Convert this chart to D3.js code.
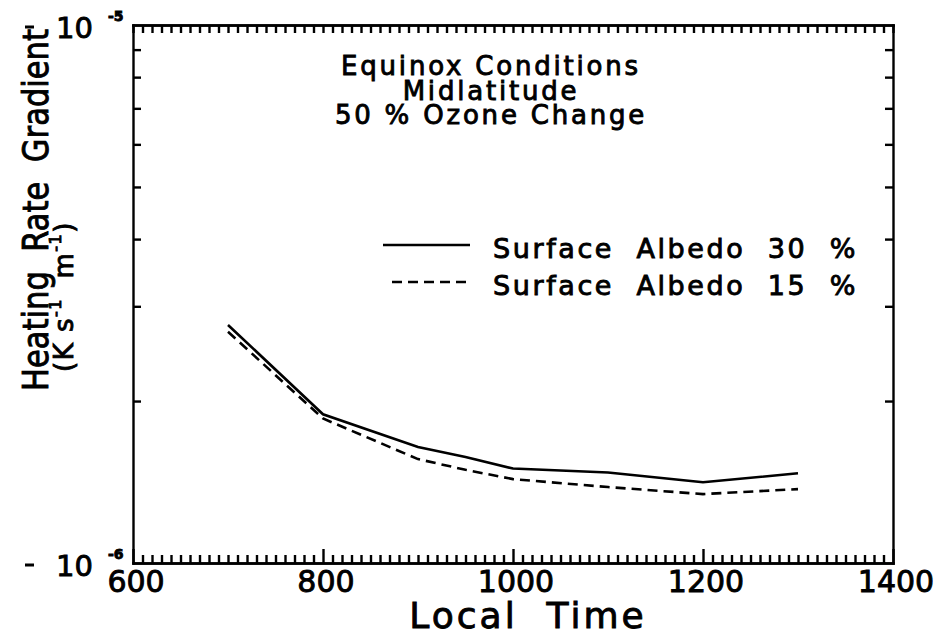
<!DOCTYPE html>
<html>
<head>
<meta charset="utf-8">
<script src="https://cdn.jsdelivr.net/npm/d3@7"></script>
<style>
  body { margin: 0; background: #fff; }
  svg { font-family: "DejaVu Sans", sans-serif; }
  .axis path, .axis line { stroke: #000; stroke-width: 2.4; }
  .axis text { display: none; }
  .txt { fill: #000; stroke: #000; stroke-width: 0.9; white-space: pre; }
</style>
</head>
<body>
<div id="chart"></div>
<script>
// values (heating rate gradient, K s-1 m-1)
var times = [700, 800, 900, 950, 1000, 1100, 1200, 1300];
var albedo30 = [2.77e-6, 1.89e-6, 1.643e-6, 1.574e-6, 1.498e-6, 1.473e-6, 1.413e-6, 1.468e-6];
var albedo15 = [2.69e-6, 1.856e-6, 1.56e-6, 1.49e-6, 1.432e-6, 1.384e-6, 1.343e-6, 1.372e-6];

var xTickLabels = [600, 800, 1000, 1200, 1400];
var yDecades = [1e-6, 1e-5];
var yDecadeExp = ["-6", "-5"];
var titleLines = ["Equinox Conditions", "Midlatitude", "50 % Ozone Change"];
var legendLabels = ["Surface  Albedo  30  %", "Surface  Albedo  15  %"];

var W = 937, H = 637;
var margin = {top: 25, right: 44, bottom: 74, left: 133}
    , width = W - margin.left - margin.right
    , height = H - margin.top - margin.bottom;

var svg = d3.select("#chart").append("svg")
    .attr("width", W)
    .attr("height", H);

var g = svg.append("g")
    .attr("transform", "translate(" + margin.left + "," + margin.top + ")");

var x = d3.scaleLinear().domain([600, 1400]).range([0, width]);
var y = d3.scaleLog().domain(yDecades).range([height, 0]);

// minor ticks every 10 units, majors every 200
var xMinor = d3.range(610, 1400, 10).filter(v => v % 200 !== 0);
var xMajor = xTickLabels;
var yMinor = d3.range(2, 10).map(v => v * 1e-6);

function axisGroup(axis, tr) {
    var a = g.append("g").attr("class", "axis");
    if (tr) a.attr("transform", tr);
    a.call(axis);
    return a;
}

axisGroup(d3.axisBottom(x).tickValues(xMinor).tickSizeInner(-8).tickSizeOuter(0), "translate(0," + height + ")");
axisGroup(d3.axisBottom(x).tickValues(xMajor).tickSizeInner(-14).tickSizeOuter(0), "translate(0," + height + ")");
axisGroup(d3.axisTop(x).tickValues(xMinor).tickSizeInner(-8).tickSizeOuter(0));
axisGroup(d3.axisTop(x).tickValues(xMajor).tickSizeInner(-8).tickSizeOuter(0));
axisGroup(d3.axisLeft(y).tickValues(yMinor).tickSizeInner(-8).tickSizeOuter(0));
axisGroup(d3.axisRight(y).tickValues(yMinor).tickSizeInner(-8).tickSizeOuter(0), "translate(" + width + ",0)");

g.selectAll(".axis path").attr("stroke-linecap", "square");

// x tick labels
g.append("g").selectAll("text")
    .data(xTickLabels)
    .enter().append("text")
    .attr("class", "txt")
    .attr("x", d => x(d) + 3)
    .attr("y", height + 29)
    .attr("text-anchor", "middle")
    .attr("font-size", 30)
    .text(d => d);

// y decade labels: "- 10^n"
var yl = g.append("g");
yDecades.forEach(function(v, i) {
    var yy = y(v);
    yl.append("line")
        .attr("x1", -108).attr("x2", -99)
        .attr("y1", yy + 2).attr("y2", yy + 2)
        .attr("stroke", "#000").attr("stroke-width", 3);
    var t = yl.append("text")
        .attr("class", "txt")
        .attr("x", -77)
        .attr("y", yy + 13)
        .attr("font-size", 29);
    t.append("tspan").text("10");
    t.append("tspan")
        .attr("x", -25)
        .attr("dy", -17)
        .attr("font-size", 14)
        .attr("font-weight", "bold")
        .text(yDecadeExp[i]);
});

// axis titles
svg.append("text")
    .attr("class", "txt")
    .attr("x", 528)
    .attr("y", 628)
    .attr("text-anchor", "middle")
    .attr("font-size", 36)
    .attr("letter-spacing", 3)
    .text("Local  Time");

svg.append("text")
    .attr("class", "txt")
    .attr("transform", "translate(48,210) rotate(-90)")
    .attr("text-anchor", "middle")
    .attr("font-size", 36)
    .attr("textLength", 362)
    .attr("lengthAdjust", "spacingAndGlyphs")
    .text("Heating  Rate  Gradient");

var units = svg.append("text")
    .attr("class", "txt")
    .attr("transform", "translate(73,372) rotate(-90)")
    .attr("font-size", 26)
    .attr("letter-spacing", 1.5);
units.append("tspan").text("(K s");
units.append("tspan").attr("dy", -12).attr("font-size", 16).text("-1");
units.append("tspan").attr("dy", 12).text("  m");
units.append("tspan").attr("dy", -12).attr("font-size", 16).text("-1");
units.append("tspan").attr("dy", 12).text(")");

// title block
svg.append("g").selectAll("text")
    .data(titleLines)
    .enter().append("text")
    .attr("class", "txt")
    .attr("x", 491)
    .attr("y", (d, i) => 75 + i * 24.5)
    .attr("text-anchor", "middle")
    .attr("font-size", 26)
    .attr("letter-spacing", 2.8)
    .text(d => d);

// data lines
var line = d3.line()
    .x((d, i) => x(times[i]))
    .y(d => y(d));

var series = [
    {values: albedo30, dash: null},
    {values: albedo15, dash: "10,6"}
];

g.append("g").selectAll("path")
    .data(series)
    .enter().append("path")
    .attr("d", d => line(d.values))
    .attr("fill", "none")
    .attr("stroke", "#000")
    .attr("stroke-width", 2.6)
    .attr("stroke-dasharray", d => d.dash);

// legend
var lg = svg.append("g");
series.forEach(function(s, i) {
    var yy = 245 + i * 37;
    lg.append("line")
        .attr("x1", s.dash ? 392 : 383).attr("x2", 470)
        .attr("y1", yy).attr("y2", yy)
        .attr("stroke", "#000")
        .attr("stroke-width", 2.6)
        .attr("stroke-dasharray", s.dash);
    lg.append("text")
        .attr("class", "txt")
        .attr("x", 493)
        .attr("y", yy + 13)
        .attr("font-size", 27)
        .attr("letter-spacing", 2.6)
        .text(legendLabels[i]);
});
</script>
</body>
</html>
